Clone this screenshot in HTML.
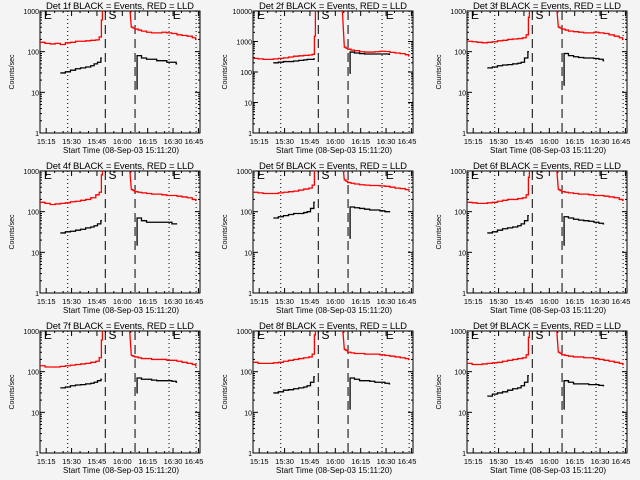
<!DOCTYPE html>
<html><head><meta charset="utf-8"><style>
html,body{margin:0;padding:0;background:#f4f4f4;}
svg{display:block;font-family:"Liberation Sans",sans-serif;}
</style></head><body>
<svg id="chart" width="640" height="480" viewBox="0 0 640 480"></svg>
<script>
// shared sample times (minutes after 15:11:20)
const redPreT=[0,3,6,9,12,15,18,21,24,27,30,33,35,36.3];
const redPostT=[54,55,56,58,60,63,66,69,72,75,78,81,84,87,90,92];
const blkPreT=[12,15,18,21,24,27,30,32,34,36];
const blkPostT=[57.2,57.4,60,63,66,69,72,75,78,80.5];
const tickLabels=["15:15","15:30","15:45","16:00","16:15","16:30","16:45"];
const tickTimes=[3.67,18.67,33.67,48.67,63.67,78.67,93.67];
const dashedT=[38.6,56.2];
const dottedT=[16.4,76.3,92.3];
const markerT=[2.3,40.5,78.5];
const markerLabels=["E","S","E"];
const detNames=["1f","2f","3f","4f","5f","6f","7f","8f","9f"];
const yMaxes=[1000,10000,1000,1000,1000,1000,1000,1000,1000];
const redPre=[
[170,160,155,160,150,165,170,180,180,185,190,195,230,600],
[280,270,260,260,270,280,290,310,330,340,350,360,380,1500],
[180,175,170,165,170,175,185,190,200,205,210,220,260,700],
[170,160,150,155,160,165,175,180,190,200,220,260,300,800],
[300,290,280,280,280,290,300,310,320,340,360,380,450,1000],
[170,165,160,160,165,170,180,190,200,200,210,220,260,700],
[140,130,130,130,135,140,145,150,155,160,170,180,220,600],
[170,160,160,160,165,170,180,190,200,210,220,230,270,800],
[160,150,150,155,160,165,170,180,190,200,210,220,260,700]];
const redPost=[
[400,380,360,340,320,300,290,290,300,290,280,260,250,240,220,200],
[650,600,560,520,500,460,450,450,460,480,470,440,420,400,370,340],
[400,380,360,340,320,310,300,290,290,300,290,280,260,240,220,200],
[350,330,310,300,290,280,270,270,260,250,250,240,230,220,200,190],
[600,560,520,500,480,460,450,440,440,430,420,400,380,370,350,340],
[350,330,310,300,290,280,270,270,260,250,250,240,230,220,200,190],
[250,240,230,220,210,210,200,200,200,190,190,180,170,160,150,140],
[350,330,300,290,280,280,270,270,270,260,250,240,230,220,210,200],
[300,280,260,250,240,230,230,220,220,210,200,190,180,170,160,150]];
const blkPre=[
[30,32,35,38,40,42,45,50,55,70],
[200,210,220,220,230,240,250,260,260,270],
[40,42,45,47,48,50,52,55,70,100],
[30,32,33,35,37,40,42,45,50,60],
[70,75,80,85,90,90,95,100,120,170],
[30,32,35,38,40,42,45,50,60,80],
[40,42,45,47,48,50,52,55,60,65],
[30,32,35,36,38,40,42,45,55,75],
[25,28,30,32,35,38,40,45,55,80]];
const blkPost=[
[12,80,70,65,65,60,60,55,55,50],
[90,450,420,400,390,390,390,390,390,380],
[15,90,80,75,72,70,70,68,65,60],
[15,70,60,55,55,55,55,55,50,50],
[22,130,125,120,115,110,110,105,100,100],
[15,75,70,65,62,60,58,55,52,50],
[30,70,65,65,62,60,60,60,58,55],
[12,70,65,60,60,58,55,55,52,50],
[12,60,55,50,50,50,48,48,46,45]];

const NS="http://www.w3.org/2000/svg";
const svg=document.getElementById('chart');
function mk(tag,attrs,parent){const e=document.createElementNS(NS,tag);for(const k in attrs)e.setAttribute(k,attrs[k]);parent.appendChild(e);return e;}
const PL=40,PR=200,PT=11,PB=133,TSPAN=94.6;
for(let p=0;p<9;p++){
  const ox=[0,213,427][p%3], oy=[0,160,320][Math.floor(p/3)];
  const g=mk('g',{transform:`translate(${ox},${oy})`},svg);
  
  
  const yMax=yMaxes[p], dec=Math.log10(yMax);
  const X=t=>PL+t*(PR-PL)/TSPAN;
  const Y=v=>PB-Math.log10(Math.max(v,1e-3))/dec*(PB-PT);
  const clipId='clip'+p;
  const cp=mk('clipPath',{id:clipId},g);mk('rect',{x:PL,y:PT,width:PR-PL,height:PB-PT},cp);
  const title=mk('text',{x:46,y:9,'font-size':9.5,textLength:148,lengthAdjust:'spacing',fill:'#000'},g);
  title.textContent='Det '+detNames[p]+' BLACK = Events, RED = LLD';
  
  
  const yt=mk('text',{x:0,y:0,'text-anchor':'middle','font-size':7,transform:'translate(14,72) rotate(-90)'},g);
  yt.textContent='Counts/sec';
  
  
  const xt=mk('text',{x:63,y:153,'font-size':8,textLength:116,lengthAdjust:'spacing'},g);
  xt.textContent='Start Time (08-Sep-03 15:11:20)';
  
  
  const fr=mk('rect',{x:PL,y:PT,width:PR-PL,height:PB-PT,fill:'none',stroke:'#000','stroke-width':1},g);
  
  
  for(let d=0;d<=dec;d++){
    const v=Math.pow(10,d),y=Y(v);
    mk('line',{x1:PL,x2:PL+5,y1:y,y2:y,stroke:'#000'},g);
    mk('line',{x1:PR,x2:PR-5,y1:y,y2:y,stroke:'#000'},g);
    if(d<dec){for(let m=2;m<10;m++){const ym=Y(v*m);mk('line',{x1:PL,x2:PL+2,y1:ym,y2:ym,stroke:'#000'},g);mk('line',{x1:PR,x2:PR-2,y1:ym,y2:ym,stroke:'#000'},g);}}
    const lb=mk('text',{x:PL-1,y:y+3,'text-anchor':'end','font-size':7},g);
    lb.textContent=String(v);
    
    
  }
  for(let i=0;i<tickTimes.length;i++){
    const x=X(tickTimes[i]);
    if(x<=PR+0.5){mk('line',{x1:x,x2:x,y1:PB,y2:PB-5,stroke:'#000'},g);mk('line',{x1:x,x2:x,y1:PT,y2:PT+5,stroke:'#000'},g);}
    for(let m=1;m<3;m++){const xm=X(tickTimes[i]+5*m-15);if(xm>PL&&xm<PR){mk('line',{x1:xm,x2:xm,y1:PB,y2:PB-2,stroke:'#000'},g);mk('line',{x1:xm,x2:xm,y1:PT,y2:PT+2,stroke:'#000'},g);}}
    const lb=mk('text',{x:Math.min(x,PR-6),y:144,'text-anchor':'middle','font-size':7.5},g);
    lb.textContent=tickLabels[i];
    
    
  }
  dottedT.forEach(t=>{const l=mk('line',{x1:X(t),x2:X(t),y1:PT,y2:PB,stroke:'#000','stroke-dasharray':'1,3'},g);
    
    });
  dashedT.forEach(t=>{const l=mk('line',{x1:X(t),x2:X(t),y1:PT,y2:PB,stroke:'#000','stroke-dasharray':'9,5'},g);
    
    });
  markerT.forEach((t,i)=>{const l=mk('text',{x:X(t),y:PT+8,'font-size':12},g);l.textContent=markerLabels[i];
    
    });
  const cg=mk('g',{'clip-path':`url(#${clipId})`},g);
  const step=(ts,vs)=>{let d='';ts.forEach((t,i)=>{const x=X(t),y=Y(vs[i]);if(i===0)d+=`M${x},${y}`;else d+=`V${y}`;const nx=i<ts.length-1?X(ts[i+1]):x+1;d+=`H${nx}`;});return d;};
  const top=PT-20;
  const rp=mk('path',{d:step(redPreT,redPre[p])+`V${top}`,fill:'none',stroke:'#ff0000','stroke-width':1.3},cg);
  
  
  const rq=mk('path',{d:`M${X(redPostT[0])-3},${top}L${X(redPostT[0])},${Y(redPost[p][0])}`+step(redPostT,redPost[p]).replace(/^M/,'L'),fill:'none',stroke:'#ff0000','stroke-width':1.3},cg);
  
  
  const bp=mk('path',{d:step(blkPreT,blkPre[p]),fill:'none',stroke:'#000','stroke-width':1.3},cg);
  
  
  const bq=mk('path',{d:step(blkPostT,blkPost[p]),fill:'none',stroke:'#000','stroke-width':1.3},cg);
  
  
}
</script>
</body></html>
